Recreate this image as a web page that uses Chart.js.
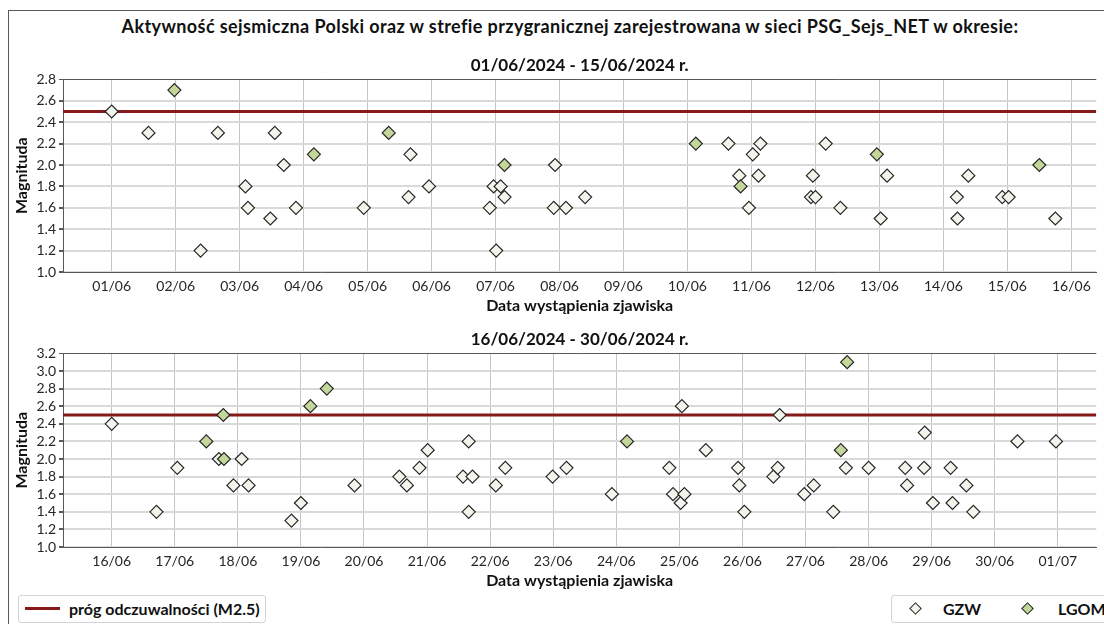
<!DOCTYPE html>
<html><head><meta charset="utf-8">
<script src="https://cdn.jsdelivr.net/npm/chart.js@4.4.1/dist/chart.umd.min.js"></script>
<style>
html,body{margin:0;padding:0;background:#fff;}
body{width:1104px;height:624px;position:relative;overflow:hidden;font-family:Lato,"Noto Sans",sans-serif;color:#111;}
#frameL{position:absolute;left:8px;top:10px;width:1px;height:614px;background:#5a5a5a;}
#frameT{position:absolute;left:8px;top:10px;width:1096px;height:1px;background:#5a5a5a;}
#title{position:absolute;left:0;top:15px;width:1140px;text-align:center;font-weight:bold;font-size:18px;letter-spacing:0.4px;line-height:22px;white-space:nowrap;}
.wrap{position:absolute;left:0;width:1104px;}
#w1{top:50px;height:266px;}
#w2{top:324px;height:267px;}
.lbox{position:absolute;top:595px;height:26px;border:1px solid #d4d4d4;border-radius:3px;background:#fff;}
#lb1{left:18px;width:246px;}
#lb2{left:891px;width:220px;}
.ltext{position:absolute;top:3px;font-weight:bold;font-size:16px;line-height:20px;white-space:nowrap;color:#111;}
.lline{position:absolute;left:6px;top:11px;width:35px;height:3px;background:#861919;}
.dia{position:absolute;top:8px;width:7px;height:7px;transform:rotate(45deg);border:1.2px solid #262626;}
</style></head>
<body>
<div id="frameL"></div><div id="frameT"></div>
<div id="title">Aktywność sejsmiczna Polski oraz w strefie przygranicznej zarejestrowana w sieci PSG_Sejs_NET w okresie:</div>
<div class="wrap" id="w1"><canvas id="c1" width="1104" height="266"></canvas></div>
<div class="wrap" id="w2"><canvas id="c2" width="1104" height="267"></canvas></div>
<div class="lbox" id="lb1"><div class="lline"></div><div class="ltext" style="left:50px;">próg odczuwalności (M2.5)</div></div>
<div class="lbox" id="lb2">
  <div class="dia" style="left:19px;background:#f2f5ec;"></div><div class="ltext" style="left:51px;">GZW</div>
  <div class="dia" style="left:131px;background:#c4d79b;"></div><div class="ltext" style="left:166px;">LGOM</div>
</div>
<script>
const FONT = 'Lato, "Noto Sans", sans-serif';
const thresholdMag = 2.5;

// ---- Period 1: 01/06 - 15/06/2024 (x = day of June, fractional)
const topTitle = '01/06/2024 - 15/06/2024 r.';
const topTickLabels = ['01/06','02/06','03/06','04/06','05/06','06/06','07/06','08/06','09/06','10/06','11/06','12/06','13/06','14/06','15/06','16/06'];
const topTickStart = 1;
const topGzwDays = [1.00,1.575,2.39,2.66,3.09,3.13,3.48,3.55,3.69,3.88,4.94,5.64,5.67,5.96,6.91,6.97,7.01,7.08,7.14,7.91,7.93,8.10,8.40,10.64,10.81,10.96,11.02,11.11,11.14,11.93,11.96,12.00,12.16,12.39,13.02,13.12,14.21,14.22,14.39,14.92,15.02,15.75];
const topGzwMags = [2.5,2.3,1.2,2.3,1.8,1.6,1.5,2.3,2.0,1.6,1.6,1.7,2.1,1.8,1.6,1.8,1.2,1.8,1.7,1.6,2.0,1.6,1.7,2.2,1.9,1.6,2.1,1.9,2.2,1.7,1.9,1.7,2.2,1.6,1.5,1.9,1.7,1.5,1.9,1.7,1.7,1.5];
const topLgomDays = [1.98,4.16,5.33,7.14,10.13,10.83,12.96,15.50];
const topLgomMags = [2.7,2.1,2.3,2.0,2.2,1.8,2.1,2.0];

// ---- Period 2: 16/06 - 30/06/2024 (x = day counted from June 1; 31 = 01/07)
const bottomTitle = '16/06/2024 - 30/06/2024 r.';
const bottomTickLabels = ['16/06','17/06','18/06','19/06','20/06','21/06','22/06','23/06','24/06','25/06','26/06','27/06','28/06','29/06','30/06','01/07'];
const bottomTickStart = 16;
const bottomGzwDays = [16.00,16.71,17.04,17.70,17.93,18.06,18.17,18.85,19.00,19.85,20.56,20.68,20.88,21.01,21.57,21.66,21.66,21.72,22.09,22.24,22.99,23.21,23.93,24.84,24.90,25.02,25.04,25.08,25.42,25.93,25.95,26.03,26.49,26.56,26.59,26.98,27.13,27.44,27.64,28.00,28.58,28.61,28.88,28.89,29.02,29.30,29.33,29.55,29.66,30.36,30.97];
const bottomGzwMags = [2.4,1.4,1.9,2.0,1.7,2.0,1.7,1.3,1.5,1.7,1.8,1.7,1.9,2.1,1.8,2.2,1.4,1.8,1.7,1.9,1.8,1.9,1.6,1.9,1.6,1.5,2.6,1.6,2.1,1.9,1.7,1.4,1.8,1.9,2.5,1.6,1.7,1.4,1.9,1.9,1.9,1.7,1.9,2.3,1.5,1.9,1.5,1.7,1.4,2.2,2.2];
const bottomLgomDays = [17.50,17.77,17.78,19.15,19.41,24.17,27.56,27.66];
const bottomLgomMags = [2.2,2.5,2.0,2.6,2.8,2.2,2.1,3.1];

function pts(xs, ys){ return xs.map((x,i)=>({x:x, y:ys[i]})); }

function makeChart(id, o){
  const yMax = o.yMax;
  const isTop = c => c.tick && Math.abs(c.tick.value - yMax) < 1e-6;
  return new Chart(document.getElementById(id), {
    type:'scatter',
    data:{datasets:[
      {type:'line', label:'próg odczuwalności (M2.5)', data:[{x:o.xMin,y:thresholdMag},{x:o.xMax,y:thresholdMag}],
       borderColor:'#861919', borderWidth:3, pointRadius:0, order:3},
      {label:'GZW', data:pts(o.gzwD,o.gzwM), pointStyle:'rectRot', pointRadius:6.5,
       backgroundColor:'#f2f5ec', borderColor:'#262626', borderWidth:1.2, order:2},
      {label:'LGOM', data:pts(o.lgD,o.lgM), pointStyle:'rectRot', pointRadius:6.5,
       backgroundColor:'#c4d79b', borderColor:'#262626', borderWidth:1.2, order:1}
    ]},
    options:{
      responsive:false, animation:false, events:[],
      layout:{padding:{left:0,right:1,top:0,bottom:1}},
      plugins:{
        legend:{display:false}, tooltip:{enabled:false},
        title:{display:true, text:o.title, fullSize:false, color:'#111',
          font:{family:FONT,size:17,weight:'bold',lineHeight:1.2}, padding:{top:5,bottom:4}}
      },
      scales:{
        x:{type:'linear', min:o.xMin, max:o.xMax,
          afterBuildTicks:s=>{ s.ticks = o.labels.map((_,i)=>({value:o.tickStart+i})); },
          afterFit:s=>{ s.height = 43; },
          ticks:{callback:(v,i)=>o.labels[i], autoSkip:false, maxRotation:0, padding:6,
            color:'#262626', font:{family:FONT,size:14}},
          grid:{color:'#c4c4c4', lineWidth:1, drawTicks:false},
          border:{color:'#595959', width:1},
          title:{display:true, text:'Data wystąpienia zjawiska', color:'#111',
            font:{family:FONT,size:16,weight:'bold',lineHeight:1.2}, padding:{top:0,bottom:0}}
        },
        y:{min:1, max:yMax,
          afterFit:s=>{ s.width = 63; },
          ticks:{stepSize:0.2, autoSkip:false, callback:v=>Number(v).toFixed(1), padding:3,
            color:'#262626', font:{family:FONT,size:14}},
          grid:{color:c=>isTop(c)?'#595959':'#d9d9d9', lineWidth:c=>isTop(c)?1:2,
            tickColor:'#595959', tickLength:4},
          border:{color:'#595959', width:1},
          title:{display:true, text:'Magnituda', color:'#111',
            font:{family:FONT,size:16,weight:'bold',lineHeight:1.2}, padding:{top:12,bottom:0}}
        }
      }
    }
  });
}

makeChart('c1', {title:topTitle, labels:topTickLabels, tickStart:topTickStart,
  xMin:0.239, xMax:16.39, yMax:2.8,
  gzwD:topGzwDays, gzwM:topGzwMags, lgD:topLgomDays, lgM:topLgomMags});
makeChart('c2', {title:bottomTitle, labels:bottomTickLabels, tickStart:bottomTickStart,
  xMin:15.228, xMax:31.61, yMax:3.2,
  gzwD:bottomGzwDays, gzwM:bottomGzwMags, lgD:bottomLgomDays, lgM:bottomLgomMags});
</script>
</body></html>
